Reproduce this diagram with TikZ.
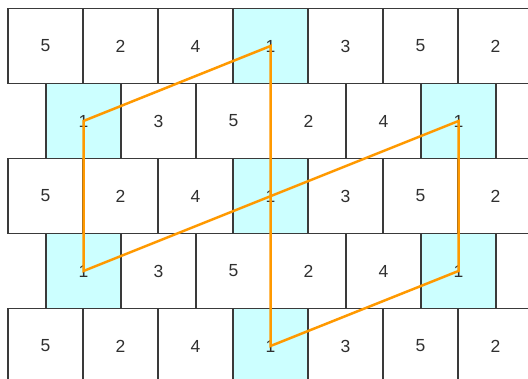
\documentclass[tikz,border=0pt]{standalone}
\usepackage{fontspec}
\setmainfont{Liberation Sans}
\definecolor{cellborder}{HTML}{3A3A3A}
\definecolor{hicyan}{HTML}{CCFFFF}
\definecolor{numtext}{HTML}{303030}
\definecolor{loopor}{HTML}{FF9900}
\begin{document}
\begin{tikzpicture}[x=1pt,y=-1pt,
  cell/.style={draw=cellborder, line width=1.3pt, minimum width=75pt, minimum height=75pt,
    inner sep=0pt, outer sep=0pt, anchor=north west, fill=white, text=numtext,
    font=\fontsize{17.5}{17.5}\selectfont},
  hi/.style={cell, fill=hicyan},
  loopline/.style={draw=loopor, line width=2.5pt, line join=miter}]
\useasboundingbox (0,0) rectangle (528,379);
\clip (0,0) rectangle (528,379);
\foreach \r/\y in {1/8.5,3/158.5,5/308.5} {
  \foreach \c/\t/\s in {1/5/cell,2/2/cell,3/4/cell,4/1/hi,5/3/cell,6/5/cell,7/2/cell} {
    \node[\s] (r\r c\c) at ({8+75*(\c-1)},\y) {\t};
  }
}
\foreach \r/\y in {2/83.5,4/233.5} {
  \foreach \c/\t/\s in {1/1/hi,2/3/cell,3/5/cell,4/2/cell,5/4/cell,6/1/hi} {
    \node[\s] (r\r c\c) at ({46+75*(\c-1)},\y) {\t};
  }
}
\draw[loopline] (r2c1.center) -- (r1c4.center) -- (r5c4.center) -- (r4c6.center)
  -- (r2c6.center) -- (r4c1.center) -- cycle;
\end{tikzpicture}
\end{document}
